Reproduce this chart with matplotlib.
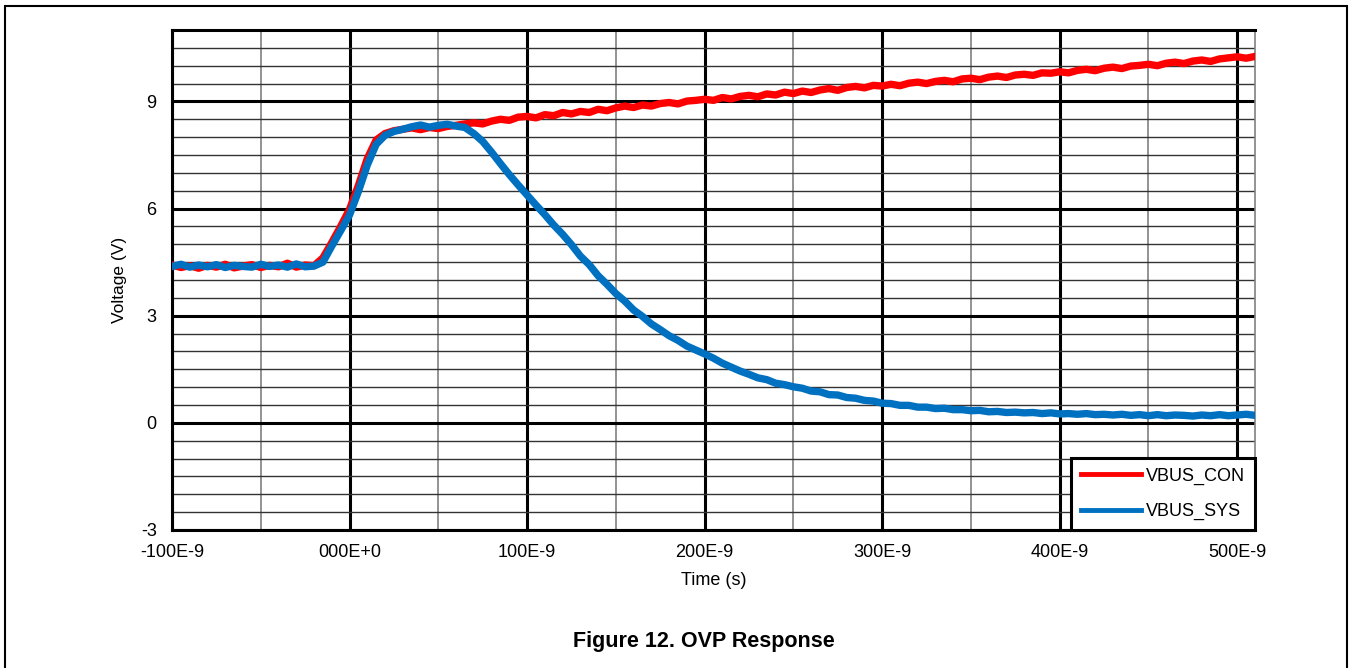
import numpy as np
import matplotlib
matplotlib.use("Agg")
import matplotlib.pyplot as plt
from matplotlib.ticker import MultipleLocator
from matplotlib.patches import Rectangle

plt.rcParams['font.family'] = ['Liberation Sans', 'DejaVu Sans']
plt.rcParams['axes.unicode_minus'] = False

# time axis, ns (5 ns steps from -100 to 510)
t_ns = np.arange(-100, 511, 5)

# VBUS_CON (red), volts
vbus_con = [
    4.42, 4.35, 4.40, 4.33, 4.41, 4.36, 4.44, 4.34, 4.39, 4.43,
    4.35, 4.41, 4.37, 4.47, 4.36, 4.42, 4.40, 4.62, 5.05, 5.50,
    5.98, 6.65, 7.40, 7.92, 8.10, 8.18, 8.22, 8.26, 8.21, 8.27,
    8.24, 8.30, 8.33, 8.37, 8.40, 8.37, 8.45, 8.50, 8.47, 8.56,
    8.58, 8.54, 8.63, 8.60, 8.69, 8.65, 8.72, 8.69, 8.78, 8.74,
    8.82, 8.87, 8.83, 8.90, 8.87, 8.94, 8.97, 8.93, 9.01, 9.03,
    9.06, 9.03, 9.11, 9.07, 9.14, 9.17, 9.13, 9.21, 9.18, 9.26,
    9.22, 9.29, 9.25, 9.32, 9.36, 9.31, 9.39, 9.42, 9.38, 9.45,
    9.43, 9.48, 9.44, 9.51, 9.54, 9.50, 9.56, 9.59, 9.55, 9.63,
    9.65, 9.61, 9.68, 9.71, 9.67, 9.74, 9.76, 9.73, 9.80, 9.79,
    9.83, 9.80, 9.87, 9.90, 9.86, 9.93, 9.96, 9.92, 9.99, 10.01,
    10.04, 10.00, 10.07, 10.10, 10.06, 10.13, 10.16, 10.12, 10.19, 10.22,
    10.25, 10.21, 10.26,
]

# VBUS_SYS (blue)
vbus_sys = [
    4.38, 4.44, 4.36, 4.42, 4.37, 4.43, 4.35, 4.41, 4.38, 4.36,
    4.44, 4.38, 4.42, 4.36, 4.45, 4.37, 4.39, 4.50, 4.95, 5.38,
    5.82, 6.48, 7.22, 7.80, 8.05, 8.16, 8.22, 8.29, 8.34, 8.28,
    8.33, 8.36, 8.31, 8.27, 8.10, 7.88, 7.58, 7.26, 6.95, 6.66,
    6.38, 6.10, 5.83, 5.54, 5.28, 4.99, 4.67, 4.43, 4.12, 3.88,
    3.62, 3.41, 3.16, 2.98, 2.77, 2.61, 2.44, 2.31, 2.15, 2.04,
    1.93, 1.81, 1.67, 1.56, 1.45, 1.36, 1.26, 1.21, 1.11, 1.07,
    1.01, 0.97, 0.89, 0.87, 0.79, 0.78, 0.71, 0.69, 0.63, 0.61,
    0.55, 0.54, 0.49, 0.49, 0.44, 0.44, 0.40, 0.41, 0.37, 0.37,
    0.34, 0.35, 0.31, 0.32, 0.29, 0.30, 0.28, 0.29, 0.26, 0.28,
    0.25, 0.26, 0.24, 0.26, 0.23, 0.24, 0.22, 0.24, 0.21, 0.23,
    0.20, 0.23, 0.20, 0.22, 0.21, 0.19, 0.22, 0.20, 0.23, 0.20,
    0.22, 0.24, 0.21,
]

xtick_vals = [-100e-9, 0, 100e-9, 200e-9, 300e-9, 400e-9, 500e-9]
xtick_labels = ['-100E-9', '000E+0', '100E-9', '200E-9', '300E-9', '400E-9', '500E-9']
ytick_vals = [-3, 0, 3, 6, 9]

t = t_ns * 1e-9

fig = plt.figure(figsize=(13.5, 6.68), dpi=100)
ax = fig.add_axes([172/1350, 1 - 530/668, 1083/1350, 500/668])

ax.plot(t, vbus_con, color='#FF0000', lw=5.3, label='VBUS_CON', zorder=3)
ax.plot(t, vbus_sys, color='#0070C0', lw=5.3, label='VBUS_SYS', zorder=4)

ax.set_xlim(-100e-9, 510e-9)
ax.set_ylim(-3, 11)
ax.set_xticks(xtick_vals)
ax.set_xticklabels(xtick_labels)
ax.set_yticks(ytick_vals)
ax.xaxis.set_minor_locator(MultipleLocator(50e-9))
ax.yaxis.set_minor_locator(MultipleLocator(0.5))
ax.tick_params(which='both', length=0, labelsize=13)
ax.tick_params(axis='x', pad=10)
ax.tick_params(axis='y', pad=11)

ax.set_axisbelow(True)
ax.grid(which='major', color='black', lw=2.2)
ax.xaxis.grid(which='minor', color='#808080', lw=1.2)
ax.yaxis.grid(which='minor', color='#333333', lw=1.0)

for side in ['left', 'top', 'bottom']:
    ax.spines[side].set_linewidth(2.2)
    ax.spines[side].set_color('black')
ax.spines['right'].set_linewidth(1.2)
ax.spines['right'].set_color('#808080')

ax.set_xlabel('Time (s)', fontsize=13, labelpad=8)
ax.set_ylabel('Voltage (V)', fontsize=12.5, labelpad=10)

leg = ax.legend(loc='lower right', borderaxespad=0, fancybox=False,
                edgecolor='black', fontsize=13, handlelength=3.3,
                handletextpad=0.3, labelspacing=1.0, borderpad=0.55,
                framealpha=1)
leg.get_frame().set_linewidth(2.2)
for ln in leg.get_lines():
    ln.set_linewidth(3.5)

fig.text(704/1350, 1 - 642/668, 'Figure 12. OVP Response', fontsize=15.5,
         fontweight='bold', ha='center', va='center')

fig.patches.append(Rectangle((5/1350, -0.05), 1342/1350, 1.05 - 6/668,
                             transform=fig.transFigure, fill=False,
                             edgecolor='black', lw=1.5))

fig.savefig('out.png', dpi=100)
